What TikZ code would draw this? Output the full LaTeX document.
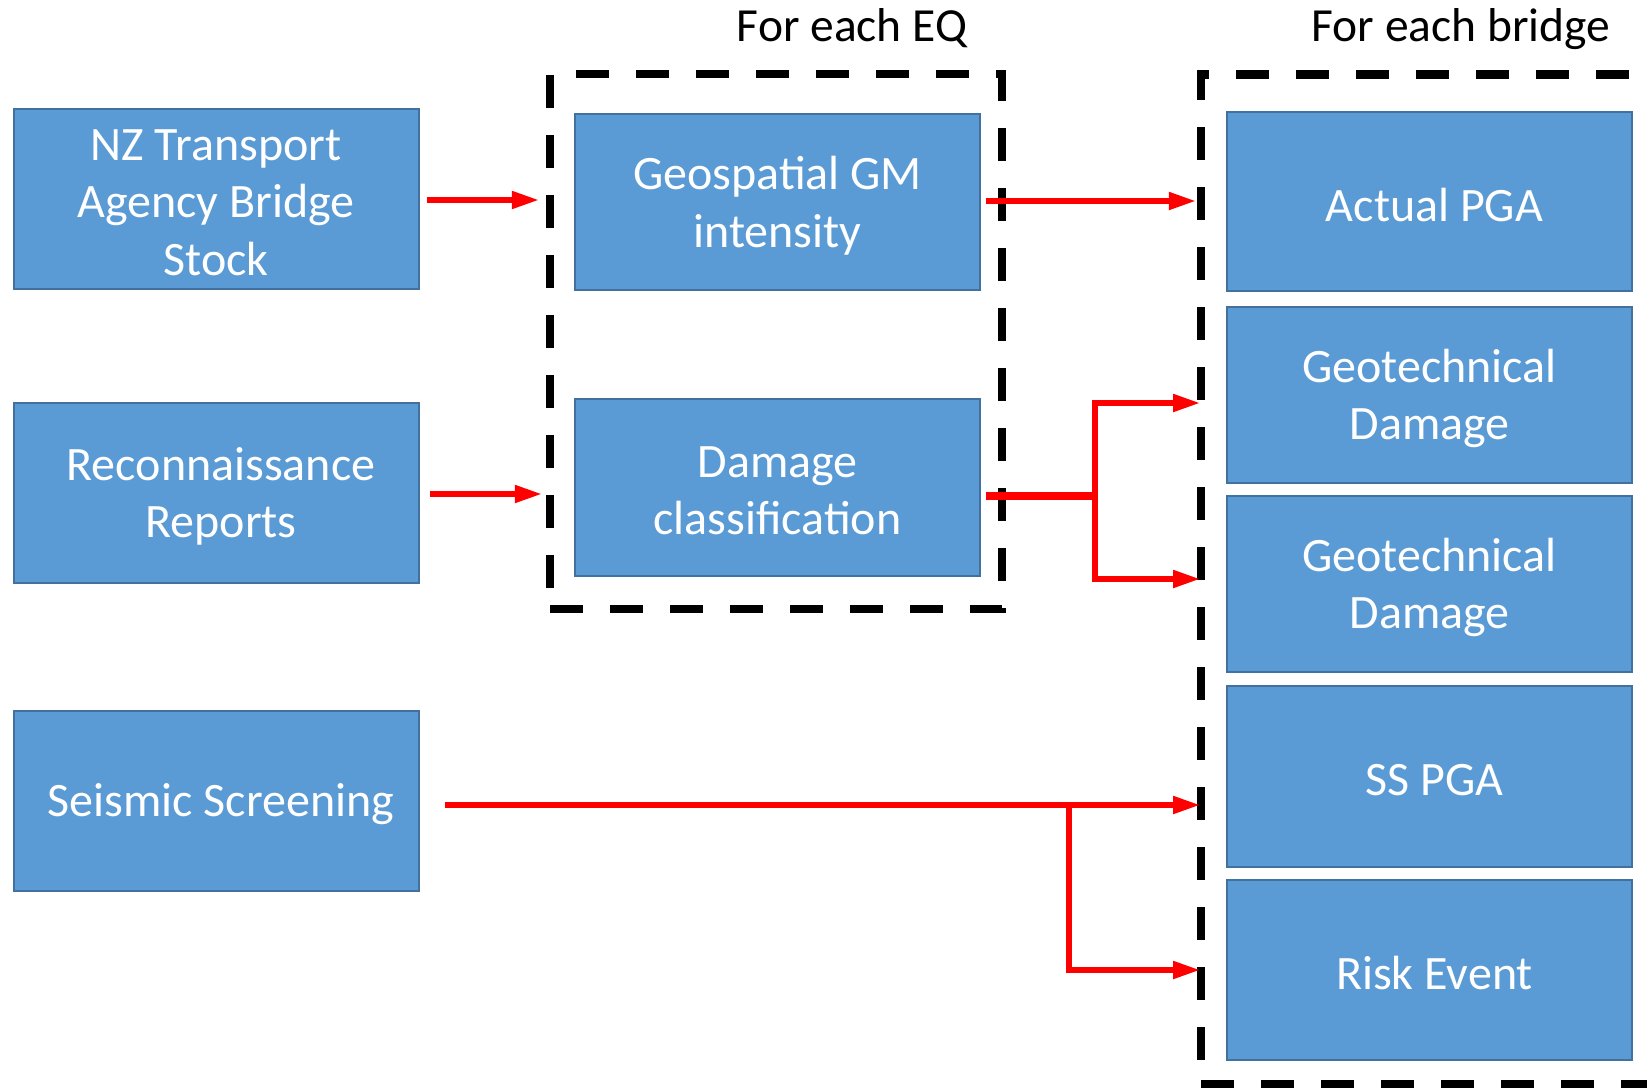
\documentclass[tikz,border=0pt]{standalone}
\usepackage{fontspec}
\setmainfont{Carlito}
\usetikzlibrary{arrows.meta,calc}
\definecolor{boxfill}{HTML}{5B9BD5}
\definecolor{boxline}{HTML}{41719C}
\begin{document}
\begin{tikzpicture}[x=1pt,y=-1pt,
  box/.style={draw=boxline,fill=boxfill,line width=2pt,inner sep=0pt,minimum width=405pt},
  boxtxt/.style={label={[text=white,align=center,font=\fontsize{48}{57.5}\selectfont,inner sep=0pt,yshift=-3.5pt]center:#1}},
  boxtxtr/.style={label={[text=white,align=center,font=\fontsize{48}{57.5}\selectfont,inner sep=0pt,yshift=-3.5pt,xshift=5pt]center:#1}},
  titletext/.style={font=\fontsize{47.5}{57}\selectfont,anchor=base},
  frame/.style={draw=black,line width=8.5pt,dash pattern=on 33pt off 27pt,inner sep=0pt},
  arr/.style={draw=red,line width=5.2pt,-{Triangle[length=27pt,width=17pt]}},
  thickred/.style={draw=red,line width=8pt},
]
\useasboundingbox (0,0) rectangle (1647,1092);
\clip (0,0) rectangle (1647,1092);

% left boxes
\node[box,minimum height=180pt,boxtxt={NZ Transport\\Agency Bridge\\Stock}] (n1) at (216,199) {};
\node[box,minimum height=180pt,boxtxtr={Reconnaissance\\Reports}] (n2) at (216,493) {};
\node[box,minimum height=180pt,boxtxtr={Seismic Screening}] (n3) at (216,801) {};

% middle boxes
\node[box,minimum height=176pt,boxtxt={Geospatial GM\\intensity}] (m1) at (777.5,202) {};
\node[box,minimum height=177pt,boxtxt={Damage\\classification}] (m2) at (777.5,487.5) {};

% right boxes
\node[box,minimum height=179pt,boxtxtr={Actual PGA}] (r1) at (1429.5,201.5) {};
\node[box,minimum height=176pt,boxtxt={Geotechnical\\Damage}] (r2) at (1429.5,395) {};
\node[box,minimum height=176pt,boxtxt={Geotechnical\\Damage}] (r3) at (1429.5,584) {};
\node[box,minimum height=181pt,boxtxtr={SS PGA}] (r4) at (1429.5,776.5) {};
\node[box,minimum height=180pt,boxtxtr={Risk Event}] (r5) at (1429.5,970) {};

% dashed frames
\node[frame,minimum width=452pt,minimum height=535pt] (eqbox) at (776,341.5) {};
\node[frame,minimum width=519pt,minimum height=1009.5pt] (brbox) at (1460.5,579.25) {};

% titles
\node[titletext] (t1) at (852,41) {For each EQ};
\node[titletext] (t2) at (1461,41) {For each bridge};

% connector end points
\coordinate (j1) at (1095,496);
\coordinate (tipA) at (1200,403);
\coordinate (tipB) at (1200,579);
\coordinate (j2) at (1069,805);
\coordinate (tipC) at (1200,805);
\coordinate (tipD) at (1200,970);

% arrows
\draw[arr,shorten >=7pt] ($(n1.east)+(7,1)$) -- ($(n1.east -| eqbox.west)+(0,1)$);
\draw[arr,shorten >=4pt] ($(n2.east)+(10,1)$) -- ($(n2.east -| eqbox.west)+(0,1)$);
\draw[arr,shorten >=1pt] ($(m1.east)+(5,-1)$) -- ($(m1.east -| brbox.west)+(0,-1)$);

\draw[thickred] ($(m2.east)+(5,8.5)$) -- ([xshift=2.6pt]j1);
\draw[arr] (j1) |- (tipA);
\draw[arr] (j1) |- (tipB);

\draw[arr] ($(n3.east)+(25,4)$) -- (tipC);
\draw[arr] (j2) |- (tipD);
\end{tikzpicture}
\end{document}
